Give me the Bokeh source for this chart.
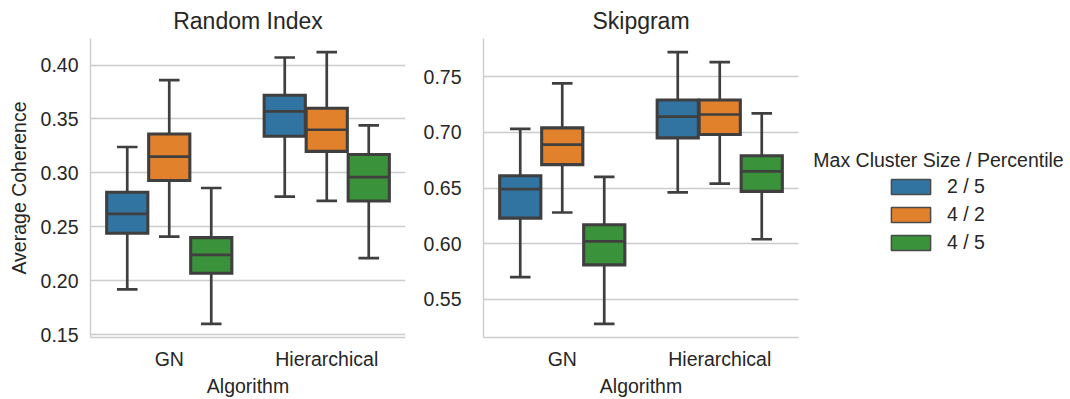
from bokeh.plotting import figure
from bokeh.layouts import row
from bokeh.models import (ColumnDataSource, FactorRange, Range1d, FixedTicker,
                          NumeralTickFormatter, Legend, LegendItem, Label)
from bokeh.transform import dodge
from bokeh.embed import file_html
from bokeh.resources import INLINE

# ---------------- data ----------------
algorithms = ["GN", "Hierarchical"]
hue_labels = ["2 / 5", "4 / 2", "4 / 5"]
hue_colors = ["#3274a1", "#e1812c", "#3a923a"]

# Random Index: one list per hue, values for [GN, Hierarchical]
ri_whislo = [[0.192, 0.278], [0.241, 0.274], [0.160, 0.221]]
ri_q1     = [[0.244, 0.334], [0.293, 0.320], [0.207, 0.274]]
ri_med    = [[0.262, 0.357], [0.315, 0.340], [0.224, 0.296]]
ri_q3     = [[0.282, 0.372], [0.336, 0.360], [0.240, 0.317]]
ri_whishi = [[0.324, 0.407], [0.386, 0.412], [0.286, 0.344]]
ri_ticks  = [0.15, 0.20, 0.25, 0.30, 0.35, 0.40]

# Skipgram
sg_whislo = [[0.570, 0.646], [0.628, 0.654], [0.528, 0.604]]
sg_q1     = [[0.623, 0.695], [0.671, 0.698], [0.581, 0.647]]
sg_med    = [[0.649, 0.714], [0.689, 0.716], [0.602, 0.665]]
sg_q3     = [[0.661, 0.729], [0.704, 0.729], [0.617, 0.679]]
sg_whishi = [[0.703, 0.772], [0.744, 0.763], [0.660, 0.717]]
sg_ticks  = [0.55, 0.60, 0.65, 0.70, 0.75]

# ---------------- style ----------------
FONT = "Liberation Sans"
TXT = "#262626"
EDGE = "#3f3f3f"
GRID = "#cccccc"
LW = 2.7
BOX_LW = 3.1
H = 399
TOP, BOTTOM = 38, 61
SLOT = 0.8 / 3
BW = SLOT * 0.98
CAP = BW / 2
offsets = [-SLOT, 0.0, SLOT]


def panel(title, whislo, q1, med, q3, whishi, ticks, ylabel, width, bl, br, ystandoff):
    lo = min(min(v) for v in whislo)
    hi = max(max(v) for v in whishi)
    pad = 0.05 * (hi - lo)
    p = figure(x_range=FactorRange(*algorithms), y_range=Range1d(lo - pad, hi + pad),
               width=width, height=H, output_backend="svg", toolbar_location=None,
               min_border_left=bl, min_border_right=br, min_border_top=TOP,
               min_border_bottom=BOTTOM, title=title, outline_line_color=None,
               background_fill_color="white", border_fill_color="white")
    p.title.text_font = FONT
    p.title.text_font_size = "23px"
    p.title.text_font_style = "normal"
    p.title.text_color = TXT
    p.title.align = "center"
    p.title.standoff = 10

    p.xgrid.visible = False
    p.ygrid.grid_line_color = GRID
    p.ygrid.grid_line_width = 1.4

    for ax in (p.xaxis[0], p.yaxis[0]):
        ax.axis_line_color = GRID
        ax.axis_line_width = 1.4
        ax.major_tick_line_color = None
        ax.minor_tick_line_color = None
        ax.major_tick_out = 0
        ax.major_tick_in = 0
        ax.major_label_text_font = FONT
        ax.major_label_text_font_size = "19.5px"
        ax.major_label_text_color = TXT
        ax.axis_label_text_font = FONT
        ax.axis_label_text_font_size = "19.5px"
        ax.axis_label_text_font_style = "normal"
        ax.axis_label_text_color = TXT

    p.yaxis.ticker = FixedTicker(ticks=ticks)
    p.yaxis.formatter = NumeralTickFormatter(format="0.00")
    p.yaxis.major_label_standoff = ystandoff
    p.yaxis.axis_label_standoff = 8
    if ylabel:
        p.yaxis.axis_label = ylabel
    p.xaxis.axis_label = "Algorithm"
    p.xaxis.major_label_standoff = 10
    p.xaxis.axis_label_standoff = 2

    for k in range(3):
        src = ColumnDataSource(dict(alg=algorithms, lo=whislo[k], q1=q1[k], med=med[k],
                                    q3=q3[k], hi=whishi[k]))
        off = offsets[k]
        xc = dodge("alg", off, range=p.x_range)
        xl = dodge("alg", off - CAP / 2, range=p.x_range)
        xr = dodge("alg", off + CAP / 2, range=p.x_range)
        bl_ = dodge("alg", off - BW / 2, range=p.x_range)
        br_ = dodge("alg", off + BW / 2, range=p.x_range)
        kw = dict(source=src, line_color=EDGE, line_width=LW)
        p.segment(x0=xc, y0="q3", x1=xc, y1="hi", **kw)
        p.segment(x0=xc, y0="lo", x1=xc, y1="q1", **kw)
        p.segment(x0=xl, y0="hi", x1=xr, y1="hi", **kw)
        p.segment(x0=xl, y0="lo", x1=xr, y1="lo", **kw)
        p.vbar(x=xc, width=BW, bottom="q1", top="q3", fill_color=hue_colors[k],
               line_join="miter", source=src, line_color=EDGE, line_width=BOX_LW)
        p.segment(x0=bl_, y0="med", x1=br_, y1="med", **kw)
    return p


P1_W, P2_W = 413, 387
p1 = panel("Random Index", ri_whislo, ri_q1, ri_med, ri_q3, ri_whishi, ri_ticks,
           "Average Coherence", P1_W, 90, 8, 12)
p2 = panel("Skipgram", sg_whislo, sg_q1, sg_med, sg_q3, sg_whishi, sg_ticks,
           None, P2_W, 70, 2, 22)

# ---------------- legend panel ----------------
X0 = P1_W + P2_W
P3_W = 1070 - X0
p3 = figure(width=P3_W, height=H, x_range=Range1d(X0, X0 + P3_W),
            y_range=Range1d(H - BOTTOM, TOP), output_backend="svg",
            toolbar_location=None, min_border=0, min_border_top=TOP,
            min_border_bottom=BOTTOM, x_axis_location=None, y_axis_location=None,
            outline_line_color=None, background_fill_color="white",
            border_fill_color="white")
p3.grid.visible = False
items = []
for k in range(3):
    # invisible proxy renderers that only provide the legend swatches
    r = p3.vbar(x=list(range(len(algorithms))), bottom=sg_q1[k], top=sg_q3[k], width=0.5,
                fill_color=hue_colors[k], line_color="#4a4a4a", line_width=1.5,
                visible=False)
    items.append(LegendItem(label=hue_labels[k], renderers=[r]))
leg = Legend(items=items, location=(886 - X0, 83), padding=0, margin=0, spacing=5,
             glyph_width=49, glyph_height=19, label_height=19, label_standoff=12,
             border_line_color=None, background_fill_alpha=0, click_policy="none",
             label_text_font=FONT, label_text_font_size="19.5px", label_text_color=TXT)
p3.add_layout(leg)
p3.add_layout(Label(x=938, y=160, text="Max Cluster Size / Percentile",
                    text_align="center", text_baseline="middle", text_font=FONT,
                    text_font_size="19.5px", text_color=TXT))

layout = row(p1, p2, p3)
open("out.html", "w").write(file_html(layout, INLINE))
